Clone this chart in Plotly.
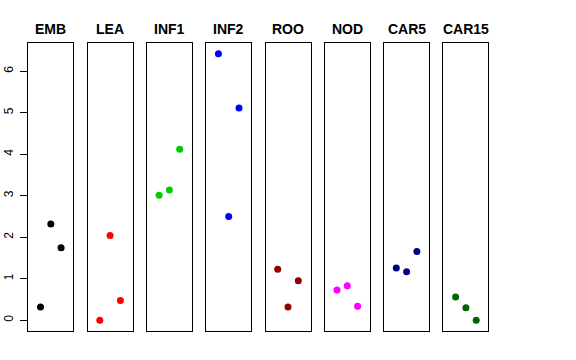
import plotly.graph_objects as go

categories = ["EMB", "LEA", "INF1", "INF2", "ROO", "NOD", "CAR5", "CAR15"]
colors = ["#000000", "#FF0000", "#00CD00", "#0000FF", "#8B0000", "#FF00FF", "#00008B", "#006400"]
positions = [1, 2, 3]
values = {
    "EMB": [0.32, 2.32, 1.75],
    "LEA": [0.0, 2.04, 0.48],
    "INF1": [3.01, 3.14, 4.12],
    "INF2": [6.42, 2.50, 5.11],
    "ROO": [1.23, 0.32, 0.95],
    "NOD": [0.73, 0.83, 0.34],
    "CAR5": [1.26, 1.17, 1.66],
    "CAR15": [0.56, 0.30, 0.0],
}
y_ticks = [0, 1, 2, 3, 4, 5, 6]

W, H = 576, 360
fig = go.Figure()
layout = dict(
    width=W, height=H,
    margin=dict(l=0, r=0, t=0, b=0, autoexpand=False),
    plot_bgcolor="white", paper_bgcolor="white",
    showlegend=False,
    font=dict(family="Liberation Sans, Arial, sans-serif", color="black"),
    annotations=[],
)
ydom = [1 - 331 / H, 1 - 43 / H]
yr = [-0.257, 6.677]
for i, cat in enumerate(categories):
    x0 = 28.3 + 59.3 * i
    x1 = x0 + 45
    sfx = "" if i == 0 else str(i + 1)
    fig.add_trace(go.Scatter(
        x=positions, y=values[cat], mode="markers",
        marker=dict(color=colors[i], size=7),
        xaxis="x" + sfx, yaxis="y" + sfx, hoverinfo="skip",
    ))
    layout["xaxis" + sfx] = dict(
        domain=[x0 / W, x1 / W], range=[-0.185, 4.185],
        showticklabels=False, ticks="", showgrid=False, zeroline=False,
        showline=True, mirror=True, linecolor="black", linewidth=1,
        anchor="y" + sfx, fixedrange=True, automargin=False,
    )
    ya = dict(
        domain=ydom, range=yr, showgrid=False, zeroline=False,
        showline=True, mirror=True, linecolor="black", linewidth=1,
        anchor="x" + sfx, fixedrange=True, automargin=False,
    )
    if i == 0:
        ya.update(tickmode="array", tickvals=y_ticks, ticktext=[str(t) for t in y_ticks],
                  ticks="outside", ticklen=7, tickcolor="black", tickwidth=1,
                  tickangle=-90, ticklabelstandoff=3,
                  tickfont=dict(size=12, color="black"))
    else:
        ya.update(showticklabels=False, ticks="")
    layout["yaxis" + sfx] = ya
    layout["annotations"].append(dict(
        x=(x0 + x1) / 2 / W, y=1 - 29.3 / H, xref="paper", yref="paper",
        text="<b>" + cat + "</b>", showarrow=False,
        xanchor="center", yanchor="middle",
        font=dict(size=14, color="black", family="Liberation Sans, Arial, sans-serif"),
    ))

fig.update_layout(**layout)
fig.write_html("out.html", config={"displayModeBar": False},
               post_script="document.body.style.margin='0';")
